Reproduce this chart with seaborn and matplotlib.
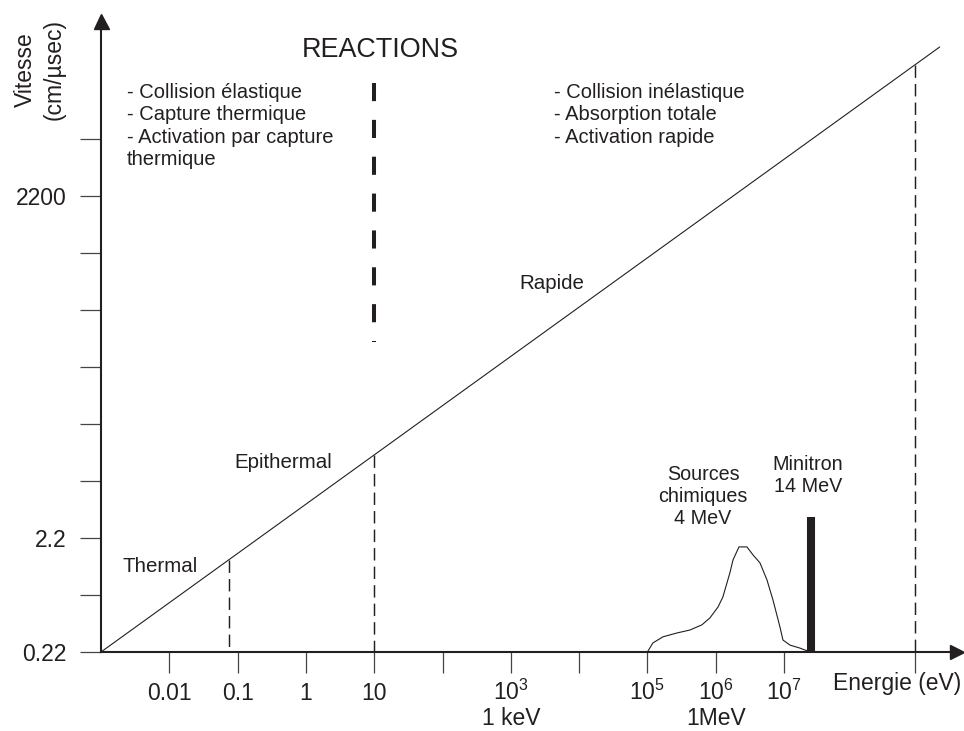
import numpy as np
import pandas as pd
import matplotlib
matplotlib.use("Agg")
import matplotlib.pyplot as plt
import matplotlib.transforms as mtransforms
import seaborn as sns

# Schéma vitesse / énergie des neutrons (axes logarithmiques)
# Energie en eV, vitesse en cm/µs

# Droite vitesse - énergie
droite_E = [1e-3, 1.9e9]
droite_v = [0.22, 44600]

# Limites des domaines (tirets fins) : thermique / épithermique / rapide
limites_E = [0.075, 10, 8.2e8]

# Séparation des réactions (gros tirets)
reactions_E = 10
reactions_v = [21600, 115]

# Spectre des sources chimiques (4 MeV)
sources_E = [1.0e5, 1.2e5, 1.69e5, 2.7e5, 4.19e5, 6.28e5, 8.22e5, 1.08e6,
             1.27e6, 1.61e6, 1.79e6, 2.19e6, 2.86e6, 3.51e6, 4.44e6, 5.62e6,
             6.89e6, 8.71e6, 9.64e6, 1.22e7, 1.71e7, 2.02e7, 2.24e7]
sources_v = [0.22, 0.264, 0.299, 0.323, 0.343, 0.381, 0.438, 0.546,
             0.667, 1.087, 1.413, 1.838, 1.838, 1.564, 1.331, 0.944,
             0.628, 0.365, 0.280, 0.253, 0.238, 0.229, 0.225]

# Minitron 14 MeV (raie)
minitron_E = 2.5e7
minitron_v = 3.37

# Graduations
xticks_E = [0.01, 0.1, 1, 10, 100, 1e3, 1e4, 1e5, 1e6, 1e7, 8.2e8]
xticks_lab = ["0.01", "0.1", "1", "10", "", "$10^3$", "", "$10^5$",
              "$10^6$", "$10^7$", ""]
yticks_v = [0.22, 0.7, 2.2, 7, 22, 70, 220, 700, 2200, 7000]
yticks_lab = ["0.22", "", "2.2", "", "", "", "", "", "2200", ""]

NOIR = "#231f20"

sns.set_style("ticks")
plt.rcParams["font.family"] = ["Liberation Sans", "DejaVu Sans"]
plt.rcParams["mathtext.fontset"] = "custom"
plt.rcParams["mathtext.rm"] = "Liberation Sans"
plt.rcParams["mathtext.default"] = "rm"

W, H = 964, 731
fig = plt.figure(figsize=(W / 100, H / 100), dpi=100)
ax = fig.add_axes([101 / W, (H - 652) / H, (W - 101) / W, 652 / H])
ax.set_xscale("log")
ax.set_yscale("log")
ax.set_xlim(1e-3, 4.31e9)
ax.set_ylim(0.22, 1.152e5)

# droite principale
sns.lineplot(x=droite_E, y=droite_v, ax=ax, color=NOIR, lw=0.8,
             estimator=None)

# limites des domaines, jusqu'à la droite
log_top = np.interp(np.log10(limites_E), np.log10(droite_E),
                    np.log10(droite_v))
for E, lt in zip(limites_E, log_top):
    ax.plot([E, E], [10 ** lt, 0.22], color=NOIR, lw=1.05,
            linestyle=(0, (8.5, 4.2)))

# séparation des réactions
ax.plot([reactions_E, reactions_E], reactions_v, color=NOIR, lw=2.9,
        linestyle=(0, (4.5, 4.65)), dash_capstyle="butt")

# sources chimiques
df_sources = pd.DataFrame({"E": sources_E, "v": sources_v})
sns.lineplot(data=df_sources, x="E", y="v", ax=ax, color=NOIR, lw=0.8,
             sort=False, estimator=None)

# minitron
ax.plot([minitron_E, minitron_E], [0.22, minitron_v], color=NOIR, lw=5.8,
        solid_capstyle="butt")

# axes
ax.xaxis.set_minor_locator(matplotlib.ticker.NullLocator())
ax.yaxis.set_minor_locator(matplotlib.ticker.NullLocator())
ax.set_xticks(xticks_E, xticks_lab)
ax.set_yticks(yticks_v, yticks_lab)
ax.tick_params(axis="both", direction="out", length=15, width=0.9,
               color="#444444", labelsize=16.5, labelcolor=NOIR)
ax.tick_params(axis="x", pad=19.4)
ax.tick_params(axis="y", pad=10)
for lab in ax.get_xticklabels():
    lab.set_verticalalignment("baseline")
ax.set_xlabel("")
ax.set_ylabel("")

for s in ["top", "right"]:
    ax.spines[s].set_visible(False)
for s in ["left", "bottom"]:
    ax.spines[s].set_linewidth(1.5)
    ax.spines[s].set_color(NOIR)
ax.spines["bottom"].set_bounds(1e-3, 3.4e9)
ax.spines["left"].set_bounds(0.22, 7.6e4)
ax.plot(3.46e9, 0.22, marker=">", ms=9.4, color=NOIR, clip_on=False)
ax.plot(1e-3, 7.6e4, marker="^", ms=10.8, color=NOIR, clip_on=False)


def texte(x, y, s, **kw):
    fig.text(x / W, 1 - y / H, s, color=NOIR, **kw)


texte(380, 57, "REACTIONS", ha="center", va="baseline", fontsize=19.4)
texte(127, 83, "- Collision élastique\n- Capture thermique\n"
      "- Activation par capture\nthermique",
      ha="left", va="top", fontsize=14.5, linespacing=1.22)
texte(554, 83, "- Collision inélastique\n- Absorption totale\n"
      "- Activation rapide",
      ha="left", va="top", fontsize=14.5, linespacing=1.22)
texte(123, 572, "Thermal", va="baseline", fontsize=14.8)
texte(234, 468, "Epithermal", va="baseline", fontsize=14.8)
texte(519, 289, "Rapide", va="baseline", fontsize=14.8)
texte(703, 465, "Sources\nchimiques\n4 MeV", ha="center", va="top",
      multialignment="center", fontsize=14.2)
texte(808, 455, "Minitron\n14 MeV", ha="center", va="top",
      multialignment="center", fontsize=14.2)
texte(833, 690, "Energie (eV)", va="baseline", fontsize=16.5)
texte(40, 70, "Vitesse\n(cm/µsec)", rotation=90, ha="center", va="center",
      multialignment="center", linespacing=1.3, fontsize=16.5)

trans = mtransforms.blended_transform_factory(ax.transData, fig.transFigure)
ax.text(1e3, 1 - 725 / H, "1 keV", transform=trans, ha="center",
        va="baseline", fontsize=16.5, color=NOIR)
ax.text(1e6, 1 - 725 / H, "1MeV", transform=trans, ha="center",
        va="baseline", fontsize=16.5, color=NOIR)

fig.savefig("out.png", dpi=100)
